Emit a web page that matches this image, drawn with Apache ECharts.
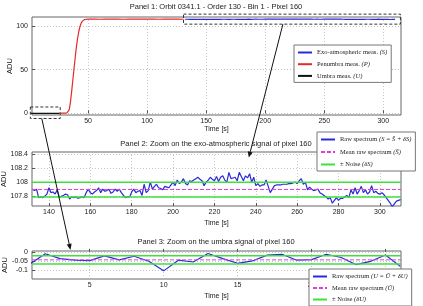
<!DOCTYPE html>
<html>
<head>
<meta charset="utf-8">
<script src="https://cdn.jsdelivr.net/npm/echarts@6/dist/echarts.min.js"></script>
<style>
html, body { margin: 0; padding: 0; background: #fff; }
#chart { width: 423px; height: 306px; }
</style>
</head>
<body>
<div id="chart"></div>
<script>
// umbra signal, one sample per second from t = 1 s
const umbraStart = 1
const umbraValues = [
    -0.065, -0.01, -0.037, -0.046, -0.048, -0.022, -0.044, -0.024, -0.052, -0.105,
    -0.046, -0.056, -0.009, -0.037, -0.063, -0.05, -0.018, -0.013, -0.046, -0.043,
    -0.013, -0.031, -0.07, -0.052, -0.017, -0.08,
]
const umbraMean = -0.044
const umbraNoise = 0.023

// penumbra ramp
const penTime = [27, 30, 32, 33, 34, 35, 36, 37, 38, 39, 40, 41, 42, 43, 44, 45, 46, 47, 48, 50,
    55, 60, 65, 70, 75, 80, 85, 90, 95, 100, 105, 110, 115, 120, 125, 131]
const penValues = [0.1, 0.2, 0.3, 0.8, 4, 12, 24, 37, 50, 63, 75, 85, 93, 99, 103, 105.5, 107, 107.6, 107.9, 108,
    108.0, 107.9, 108.1, 107.95, 108.0, 107.9, 108.05, 108.0, 107.95, 108.1, 108.0, 107.9, 108.05, 107.95, 108.0, 107.9]

// exo-atmospheric signal, one sample per second from t = 132 s
const exoStart = 132
const exoValues = [
    107.90, 107.88, 107.90, 107.78, 107.79, 107.78, 107.80, 107.83, 107.92, 107.85,
    107.86, 107.83, 107.89, 107.78, 107.80, 107.81, 107.83, 107.82, 107.76, 107.79,
    107.78, 107.79, 107.77, 107.78, 107.79, 107.78, 107.85, 107.90, 107.85, 107.83,
    107.86, 107.88, 107.92, 107.85, 107.90, 107.87, 107.88, 107.90, 107.84, 107.86,
    107.90, 107.87, 107.90, 107.85, 107.81, 107.78, 107.79, 107.79, 107.86, 107.90,
    107.85, 107.87, 107.88, 107.81, 107.97, 107.85, 107.88, 108.00, 107.90, 107.94,
    107.97, 107.92, 107.91, 107.89, 107.94, 107.93, 107.92, 107.96, 108.00, 107.95,
    108.03, 107.98, 108.00, 108.05, 107.98, 107.96, 108.02, 108.01, 108.03, 108.05,
    108.07, 108.04, 108.02, 107.95, 108.00, 108.03, 108.07, 108.04, 108.02, 108.08,
    108.01, 108.07, 108.09, 108.03, 108.00, 108.14, 108.05, 108.06, 108.07, 108.02,
    108.14, 108.08, 108.02, 108.09, 108.06, 108.12, 108.00, 108.07, 107.95, 107.98,
    107.94, 107.96, 107.96, 108.03, 107.94, 107.85, 107.90, 107.95, 107.96, 107.96,
    107.96, 107.97, 107.97, 107.97, 107.98, 107.98, 107.99, 108.00, 107.98, 108.02,
    108.05, 107.97, 108.00, 107.89, 107.93, 107.90, 107.88, 107.89, 107.90, 107.85,
    107.83, 107.81, 107.79, 107.76, 107.78, 107.70, 107.74, 107.78, 107.74, 107.77,
    107.77, 107.79, 107.81, 107.78, 107.89, 107.83, 107.92, 107.83, 107.88, 107.94,
    107.85, 107.89, 107.83, 107.86, 107.95, 107.85, 107.87, 107.84, 107.83, 107.85,
    107.82, 107.78, 107.74, 107.70, 107.65, 107.69, 107.73, 107.74, 107.75,
]
const exoMean = 107.895
const exoNoise = 0.105

// tick labels
const p1XTicks = [50, 100, 150, 200, 250, 300]
const p1YTicks = [0, 50, 100]
const p2XTicks = [140, 160, 180, 200, 220, 240, 260, 280, 300]
const p2YTicks = [107.8, 108, 108.2, 108.4]
const p3XTicks = [5, 10, 15, 20, 25]
const p3YTicks = [-0.1, -0.05, 0]

const titles = [
    "Panel 1: Orbit 0341.1 - Order 130 - Bin 1 - Pixel 160",
    "Panel 2: Zoom on the exo-atmospheric signal of pixel 160",
    "Panel 3: Zoom on the umbra signal of pixel 160",
]

const names1 = ["Exo-atmospheric meas. (S)", "Penumbra meas. (P)", "Umbra meas. (U)"]
const names2 = ["Raw spectrum (S = S\u0304 + \u03b4S)", "Mean raw spectrum (S\u0304)", "\u00b1 Noise (\u03b4S)"]
const names3 = ["Raw spectrum (U = U\u0304 + \u03b4U)", "Mean raw spectrum (U\u0304)", "\u00b1 Noise (\u03b4U)"]

const SANS = "Liberation Sans"
const SERIF = "Liberation Serif"
const BLUE = "#2a2ad8"
const RED = "#e82828"
const GREEN = "#3ee03e"
const MAGENTA = "#e23ee2"

const ranges = {
    x1: [2.5, 315], y1: [-2, 110.5],
    x2: [131.8, 310.2], y2: [107.66, 108.43],
    x3: [1.1, 26.05], y3: [-0.15, 0.005],
}

function xAxis(gi, r, ticks, gap) {
    return {
        type: "value", gridIndex: gi, min: r[0], max: r[1],
        name: "Time [s]", nameLocation: "middle", nameGap: gap, nameMoveOverlap: false,
        nameTextStyle: { fontSize: 7, color: "#222", fontFamily: SANS },
        axisLine: { show: false },
        axisTick: { inside: true, length: 3, customValues: ticks, lineStyle: { color: "#555" } },
        axisLabel: { customValues: ticks, fontSize: 7, color: "#222", margin: 3, fontFamily: SANS },
        splitLine: { show: true, lineStyle: { color: "#c4c4c4", type: [1, 2], width: 1 } },
    }
}

function yAxis(gi, r, ticks, gap) {
    return {
        type: "value", gridIndex: gi, min: r[0], max: r[1],
        name: "ADU", nameLocation: "middle", nameGap: gap, nameRotate: 90, nameMoveOverlap: false,
        nameTextStyle: { fontSize: 7.5, color: "#222", fontFamily: SANS },
        axisLine: { show: false },
        axisTick: { inside: true, length: 3, customValues: ticks, lineStyle: { color: "#555" } },
        axisLabel: { customValues: ticks, fontSize: 7, color: "#222", margin: 4, fontFamily: SANS },
        splitLine: { show: true, lineStyle: { color: "#c4c4c4", type: [1, 2], width: 1 } },
    }
}

function line(name, gi, data, color, extra) {
    return Object.assign({
        name: name, type: "line", xAxisIndex: gi, yAxisIndex: gi,
        data: data, symbol: "none", animation: false,
        lineStyle: { color: color, width: 1.2 }, itemStyle: { color: color },
    }, extra || {})
}

function legend(names, left, top, gap) {
    return {
        data: names, orient: "vertical", left: left, top: top,
        padding: [4, 4, 3, 3], itemGap: gap, itemWidth: 14, itemHeight: 7,
        backgroundColor: "#fff", borderColor: "#777", borderWidth: 1,
        selectedMode: false,
        itemStyle: { opacity: 0 },
        formatter: n => {
            const k = n.indexOf("(")
            return "{a|" + n.slice(0, k) + "}{b|" + n.slice(k) + "}"
        },
        textStyle: {
            fontSize: 6.5, lineHeight: 7,
            rich: {
                a: { fontSize: 6.5, fontFamily: SERIF, color: "#222" },
                b: { fontSize: 6.5, fontFamily: SERIF, fontStyle: "italic", color: "#222" },
            },
        },
    }
}

const exoData = exoValues.map((v, i) => [exoStart + i, v])
const umbraData = umbraValues.map((v, i) => [umbraStart + i, v])
const penData = penTime.map((t, i) => [t, penValues[i]])
const flat = (r, v) => [[r[0], v], [r[1], v]]

const chart = echarts.init(document.getElementById("chart"))

const gridBase = { left: 32, right: 22, show: true, borderColor: "#666", borderWidth: 1, outerBoundsMode: "none", containLabel: false }

const meanStyle = { lineStyle: { color: MAGENTA, width: 1, type: [4, 2] } }
const noiseStyle = { lineStyle: { color: GREEN, width: 1.5 } }

const option = {
    animation: false,
    grid: [
        Object.assign({ top: 17, height: 98 }, gridBase),
        Object.assign({ top: 152, height: 54 }, gridBase),
        Object.assign({ top: 251, height: 28 }, gridBase),
    ],
    xAxis: [
        xAxis(0, ranges.x1, p1XTicks, 11),
        xAxis(1, ranges.x2, p2XTicks, 14),
        xAxis(2, ranges.x3, p3XTicks, 14),
    ],
    yAxis: [
        yAxis(0, ranges.y1, p1YTicks, 18),
        yAxis(1, ranges.y2, p2YTicks, 24),
        yAxis(2, ranges.y3, p3YTicks, 23),
    ],
    legend: [
        legend(names1, 294, 45, 4.7),
        legend(names2, 317, 132, 5.5),
        legend(names3, 309, 269, 4.5),
    ],
    series: [
        line(names1[0], 0, exoData, BLUE),
        line(names1[1], 0, penData, RED),
        line(names1[2], 0, umbraData, "#111"),

        line(names2[0], 1, exoData, BLUE),
        line(names2[1], 1, flat(ranges.x2, exoMean), MAGENTA, meanStyle),
        line(names2[2], 1, flat(ranges.x2, exoMean + exoNoise), GREEN, noiseStyle),
        line(names2[2], 1, flat(ranges.x2, exoMean - exoNoise), GREEN, noiseStyle),

        line(names3[0], 2, umbraData, BLUE),
        line(names3[1], 2, flat(ranges.x3, umbraMean), MAGENTA, meanStyle),
        line(names3[2], 2, flat(ranges.x3, umbraMean + umbraNoise), GREEN, noiseStyle),
        line(names3[2], 2, flat(ranges.x3, umbraMean - umbraNoise), GREEN, noiseStyle),
    ],
}

chart.setOption(option)

// zoom boxes and arrows, placed from data coordinates
const px = (gi, p) => chart.convertToPixel({ gridIndex: gi }, p)

function dashedBox(gi, x0, x1, y0, y1) {
    const a = px(gi, [x0, y1]), b = px(gi, [x1, y0])
    return {
        type: "rect", z: 50,
        shape: { x: a[0], y: a[1], width: b[0] - a[0], height: b[1] - a[1] },
        style: { fill: null, stroke: "#333", lineWidth: 1, lineDash: [3, 2] },
    }
}

function arrow(a, b) {
    const dx = b[0] - a[0], dy = b[1] - a[1]
    const L = Math.hypot(dx, dy), ux = dx / L, uy = dy / L
    const hl = 6, hw = 2.5
    const base = [b[0] - ux * hl, b[1] - uy * hl]
    return [
        { type: "line", z: 60, shape: { x1: a[0], y1: a[1], x2: base[0], y2: base[1] }, style: { stroke: "#111", lineWidth: 1 } },
        { type: "polygon", z: 60, shape: { points: [b, [base[0] - uy * hw, base[1] + ux * hw], [base[0] + uy * hw, base[1] - ux * hw]] }, style: { fill: "#111" } },
    ]
}

const titleY = [7, 144, 242]
const graphics = titles.map((t, i) => ({
    type: "text", z: 10,
    style: { text: t, x: 216, y: titleY[i], align: "center", verticalAlign: "middle", fontSize: 7.5, fontFamily: SANS, fill: "#222" },
}))

graphics.push(dashedBox(0, 1.1, 26.4, -6, 7.2))
graphics.push(dashedBox(0, 130.8, 314.5, 102.3, 113.8))
graphics.push(...arrow(px(0, [215, 102.3]), px(1, [236.6, 108.35])))
graphics.push(...arrow(px(0, [10.8, -6]), px(2, [3.7, 0.011])))

chart.setOption({ graphic: graphics })
</script>
</body>
</html>
